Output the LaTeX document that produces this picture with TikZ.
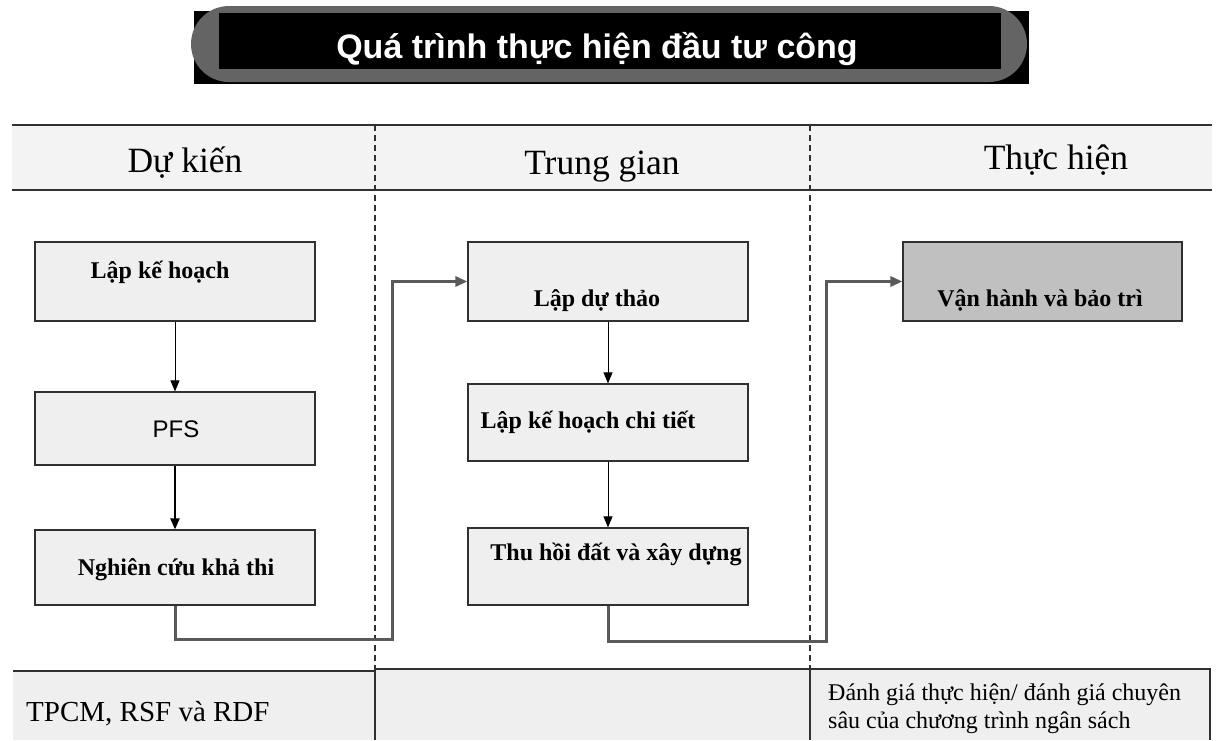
\documentclass[tikz,border=0pt]{standalone}
\usepackage{fontspec}
\setmainfont{Liberation Serif}
\newfontfamily\arialfont{Liberation Sans}
\definecolor{boxfill}{HTML}{EFEFEF}
\definecolor{headfill}{HTML}{F3F3F3}
\definecolor{opfill}{HTML}{C0C0C0}
\definecolor{capsule}{HTML}{646464}
\definecolor{linkgray}{HTML}{5A5A5A}
\definecolor{edge}{HTML}{303030}
\usetikzlibrary{arrows.meta,positioning}

\begin{document}
\begin{tikzpicture}[x=1pt,y=-1pt,
  procbox/.style={draw=edge,line width=1.2pt,fill=boxfill,minimum width=280pt,inner sep=0pt},
  proctxt/.style={anchor=base,inner sep=0pt,font=\fontsize{24}{28}\selectfont\bfseries},
  lanetxt/.style={anchor=base,inner sep=0pt,font=\fontsize{35.5}{40}\selectfont},
  flowarr/.style={-{Triangle[length=11pt,width=9pt]},line width=1pt},
  linkarr/.style={-{Triangle[length=12pt,width=10pt]},linkgray,line width=3pt},
  lane/.style={dash pattern=on 6pt off 4pt,line width=1.2pt,edge}]
\useasboundingbox (0,0) rectangle (1224,740);
\fill (194,11) rectangle (1029,84);
\fill[capsule,rounded corners=38pt] (191,6) rectangle (1027,82);
\fill (219,13) rectangle (1001,69);
\node[anchor=base,inner sep=0pt,text=white,font=\arialfont\bfseries\fontsize{34}{40}\selectfont] (title) at (597,58) {Quá trình thực hiện đầu tư công};
% lanes
\fill[headfill] (12,125) rectangle (1212,190);
\draw[edge,line width=1.5pt] (12,125) -- (1212,125) (12,190) -- (1212,190);
\draw[lane] (375,125) -- (375,670);
\draw[lane] (810,125) -- (810,670);
\node[lanetxt] (hdPlan) at (185,172) {Dự kiến};
\node[lanetxt] (hdMid) at (602,174) {Trung gian};
\node[lanetxt] (hdImpl) at (1056,169) {Thực hiện};
% bottom band
\fill[boxfill] (13,671) rectangle (375,740);
\fill[boxfill] (375,669) rectangle (1210,740);
\draw[edge,line width=1.5pt] (13,671) -- (375,671);
\draw[edge,line width=1.2pt] (375,669) -- (1210,669) -- (1210,740);
\draw[edge,line width=1.2pt] (375,669) -- (375,740);
\draw[edge,line width=1.2pt] (810,669) -- (810,740);
\node[anchor=base west,inner sep=0pt,font=\fontsize{29}{34}\selectfont] (tools) at (26,721) {TPCM, RSF và RDF};
\node[anchor=north west,align=left,inner sep=0pt,font=\fontsize{24}{28}\selectfont] (review) at (828,684) {Đánh giá thực hiện/ đánh giá chuyên\\sâu của chương trình ngân sách};
% steps
\node[procbox,minimum height=79pt] (plan) at (175,281.5) {};
\node[procbox,minimum height=73pt] (pfs) at (175,428.5) {};
\node[procbox,minimum height=75pt] (feas) at (175,567.5) {};
\node[procbox,minimum height=79pt] (draft) at (608,281.5) {};
\node[procbox,minimum height=77pt] (detail) at (608,422.5) {};
\node[procbox,minimum height=77pt] (build) at (608,566.5) {};
\node[procbox,minimum height=79pt,minimum width=279pt,fill=opfill] (oper) at (1042.5,281.5) {};
\node[proctxt] (planT) at (160,278) {Lập kế hoạch};
\node[proctxt,font=\arialfont\fontsize{24}{28}\selectfont] (pfsT) at (176,437) {PFS};
\node[proctxt] (feasT) at (176,575) {Nghiên cứu khả thi};
\node[proctxt] (draftT) at (597,306) {Lập dự thảo};
\node[proctxt] (detailT) at (588,428) {Lập kế hoạch chi tiết};
\node[proctxt] (buildT) at (616,560) {Thu hồi đất và xây dựng};
\node[proctxt] (operT) at (1040,306) {Vận hành và bảo trì};
\draw[flowarr] (plan.south) -- (pfs.north);
\draw[flowarr,line width=2pt] (pfs.south) -- (feas.north);
\draw[flowarr] (draft.south) -- (detail.north);
\draw[flowarr] (detail.south) -- (build.north);
\coordinate (k1) at (392,639);
\coordinate (k2) at (826,641);
\draw[linkarr] (feas.south) |- (k1) |- (draft.west);
\draw[linkarr] (build.south) |- (k2) |- (oper.west);
\end{tikzpicture}
\end{document}
